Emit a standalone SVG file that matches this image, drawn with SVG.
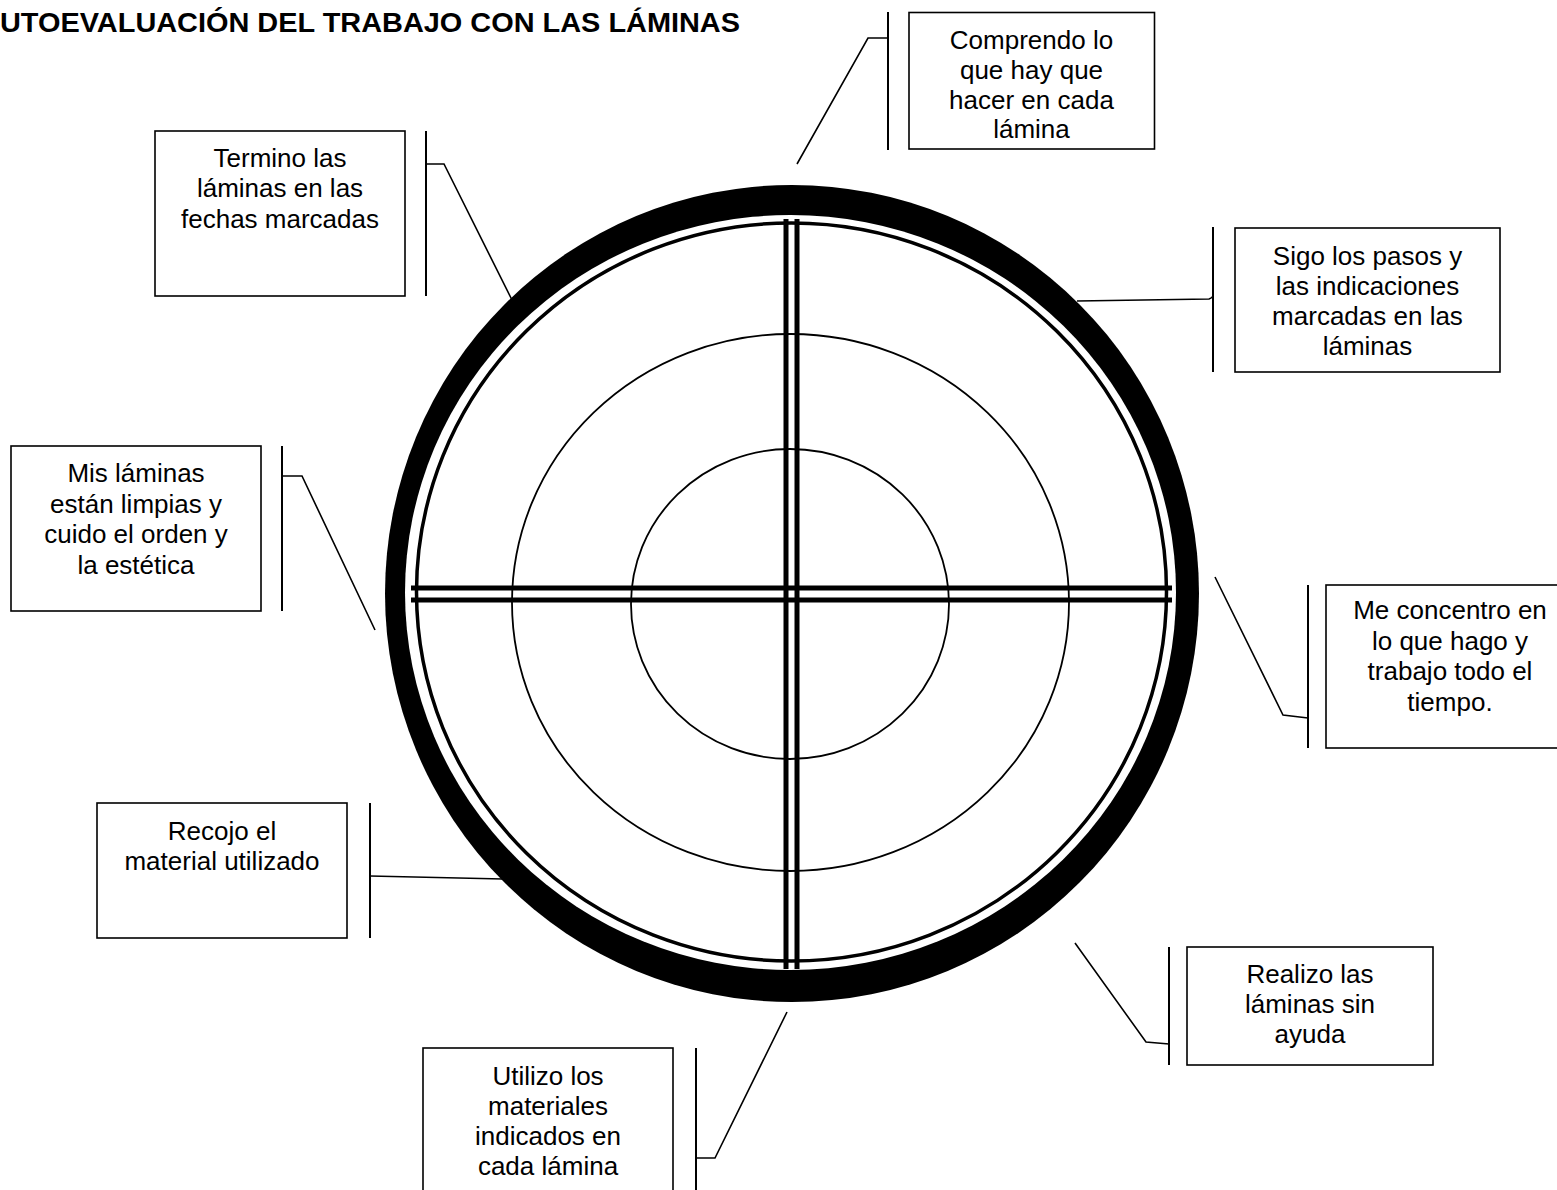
<svg xmlns="http://www.w3.org/2000/svg" width="1557" height="1190" viewBox="0 0 1557 1190">
<style>
.box{fill:#fff;stroke:#000;stroke-width:1.6}
.br{stroke:#000;stroke-width:2;fill:none}
.cn{stroke:#000;stroke-width:1.6;fill:none}
.t{font-family:"Liberation Sans",Arial,sans-serif;font-size:26px;fill:#000;text-anchor:middle}
.title{font-family:"Liberation Sans",Arial,sans-serif;font-size:27px;font-weight:bold;fill:#000}
.dl{stroke:#000;stroke-width:5;fill:none}
</style>
<rect width="1557" height="1190" fill="#fff"/>
<text class="title" x="0" y="32" textLength="740" lengthAdjust="spacingAndGlyphs">UTOEVALUACIÓN DEL TRABAJO CON LAS LÁMINAS</text>
<g id="target">
<ellipse cx="792" cy="593.5" rx="407" ry="408.5" fill="#000"/>
<ellipse cx="790.5" cy="592.5" rx="385.5" ry="377.5" fill="#fff"/>
<ellipse cx="791.5" cy="592" rx="375" ry="369" fill="none" stroke="#000" stroke-width="3.5"/>
<ellipse cx="790.5" cy="602.5" rx="278.5" ry="268.5" fill="none" stroke="#000" stroke-width="1.8"/>
<ellipse cx="790" cy="604" rx="159" ry="155" fill="none" stroke="#000" stroke-width="1.8"/>
<line class="dl" x1="411" y1="588" x2="1172" y2="588"/>
<line class="dl" x1="411" y1="600" x2="1172" y2="600"/>
<line class="dl" x1="786" y1="219" x2="786" y2="969"/>
<line class="dl" x1="797" y1="219" x2="797" y2="969"/>
</g>
<g id="connectors">
<polyline class="cn" points="797,164 868,38 888,38"/>
<line class="br" x1="888" y1="12" x2="888" y2="150"/>
<path class="cn" d="M1077,301 L1209,299 Q1212,298 1213,296"/>
<line class="br" x1="1213" y1="227" x2="1213" y2="372"/>
<polyline class="cn" points="1215,577 1283,715 1308,718"/>
<line class="br" x1="1308" y1="585" x2="1308" y2="748"/>
<polyline class="cn" points="1075,943 1146,1042 1169,1044"/>
<line class="br" x1="1169" y1="947" x2="1169" y2="1065"/>
<polyline class="cn" points="787,1012 715,1158 696,1158"/>
<line class="br" x1="696" y1="1048" x2="696" y2="1190"/>
<polyline class="cn" points="503,879 370,876"/>
<line class="br" x1="370" y1="803" x2="370" y2="938"/>
<polyline class="cn" points="375,630 302,476 282,476"/>
<line class="br" x1="282" y1="446" x2="282" y2="611"/>
<polyline class="cn" points="513,302 444,164 426,164"/>
<line class="br" x1="426" y1="131" x2="426" y2="296"/>
</g>
<g id="n1">
<rect class="box" x="909" y="12.5" width="245.5" height="136.5"/>
<text class="t" x="1031.5" y="49">Comprendo lo</text>
<text class="t" x="1031.5" y="79">que hay que</text>
<text class="t" x="1031.5" y="108.5">hacer en cada</text>
<text class="t" x="1031.5" y="138">lámina</text>
</g>
<g id="n2">
<rect class="box" x="1235" y="228" width="265" height="144"/>
<text class="t" x="1367.5" y="265">Sigo los pasos y</text>
<text class="t" x="1367.5" y="295">las indicaciones</text>
<text class="t" x="1367.5" y="325">marcadas en las</text>
<text class="t" x="1367.5" y="355">láminas</text>
</g>
<g id="n3">
<rect class="box" x="1326" y="585" width="240" height="163"/>
<text class="t" x="1450" y="619">Me concentro en</text>
<text class="t" x="1450" y="649.5">lo que hago y</text>
<text class="t" x="1450" y="680">trabajo todo el</text>
<text class="t" x="1450" y="710.5">tiempo.</text>
</g>
<g id="n4">
<rect class="box" x="1187" y="947" width="246" height="118"/>
<text class="t" x="1310" y="983">Realizo las</text>
<text class="t" x="1310" y="1013">láminas sin</text>
<text class="t" x="1310" y="1043">ayuda</text>
</g>
<g id="n5">
<rect class="box" x="423" y="1048" width="250" height="145"/>
<text class="t" x="548" y="1085">Utilizo los</text>
<text class="t" x="548" y="1115">materiales</text>
<text class="t" x="548" y="1145">indicados en</text>
<text class="t" x="548" y="1175">cada lámina</text>
</g>
<g id="n6">
<rect class="box" x="97" y="803" width="250" height="135"/>
<text class="t" x="222" y="840">Recojo el</text>
<text class="t" x="222" y="870">material utilizado</text>
</g>
<g id="n7">
<rect class="box" x="11" y="446" width="250" height="165"/>
<text class="t" x="136" y="482">Mis láminas</text>
<text class="t" x="136" y="512.5">están limpias y</text>
<text class="t" x="136" y="543">cuido el orden y</text>
<text class="t" x="136" y="573.5">la estética</text>
</g>
<g id="n8">
<rect class="box" x="155" y="131" width="250" height="165"/>
<text class="t" x="280" y="167">Termino las</text>
<text class="t" x="280" y="197">láminas en las</text>
<text class="t" x="280" y="228">fechas marcadas</text>
</g>
</svg>
